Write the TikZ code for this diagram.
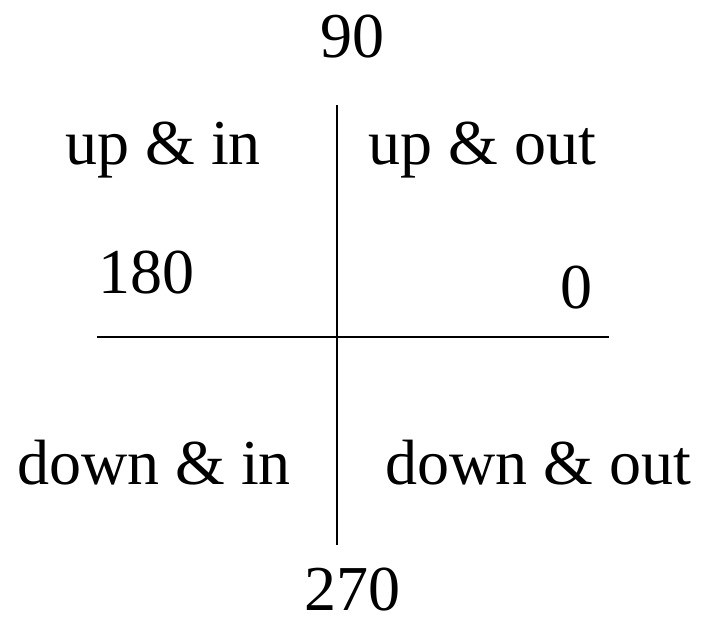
\documentclass[tikz,border=0pt]{standalone}
\usepackage{fontspec}
\setmainfont{Liberation Serif}
\begin{document}
\begin{tikzpicture}[x=1pt,y=-1pt,
  lbl/.style={anchor=base,inner sep=0pt,font=\fontsize{64}{70}\selectfont},
  axis/.style={line width=2pt,black}]
\useasboundingbox (0,0) rectangle (706,620);
\node[lbl] (n90) at (352,58) {90};
\node[lbl] (n270) at (352,610) {270};
\node[lbl] (n180) at (146,293) {180};
\node[lbl] (n0) at (576,308) {0};
\node[lbl] (ui) at (163,165) {up \& in};
\node[lbl] (uo) at (482,165) {up \& out};
\node[lbl] (di) at (154,484) {down \& in};
\node[lbl] (do) at (538,484) {down \& out};
\coordinate (vt) at (337,105);
\coordinate (vb) at (337,545);
\coordinate (hl) at (97,337);
\coordinate (hr) at (609,337);
\draw[axis] (vt) -- (vb);
\draw[axis] (hl) -- (hr);
\end{tikzpicture}
\end{document}
